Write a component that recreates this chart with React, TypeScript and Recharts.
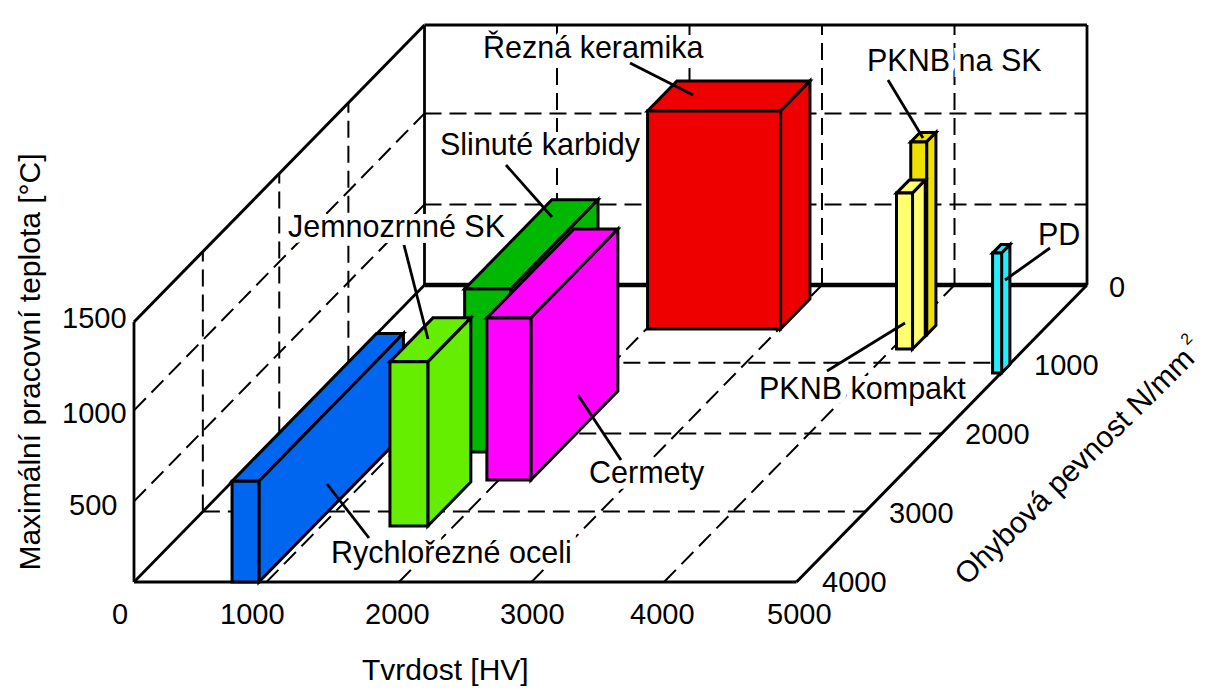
import React from "react";
import { Scatter, ScatterChart, XAxis, YAxis } from "recharts";

const WIDTH = 1212;
const HEIGHT = 692;

// axes
const hardnessTicks = [0, 1000, 2000, 3000, 4000, 5000];
const strengthTicks = [0, 1000, 2000, 3000, 4000];
const temperatureTicks = [0, 500, 1000, 1500];

// materials, all in axis units
const materials = ["Řezná keramika", "Slinuté karbidy", "Cermety", "Rychlořezné oceli", "Jemnozrnné SK", "PKNB na SK", "PKNB kompakt", "PD"];
const hardnessFrom = [2008, 1536, 1910, 740, 1518, 4038, 4035, 4937];
const hardnessTo = [3012, 1884, 2242, 943, 1804, 4158, 4156, 5005];
const strengthFront = [565, 2237, 2595, 4000, 3204, 641, 823, 1144];
const strengthBack = [179, 1000, 1399, 2010, 2621, 519, 656, 1024];
const temperatureTop = [1262, 953, 947, 611, 959, 1121, 914, 716];

const materialColors = ["#ee0000", "#00b800", "#ff00ff", "#0066f0", "#66ee00", "#eee000", "#ffff70", "#22eeff"];

// the axis steps are not quite even in the drawing
const depthAtTick = [1, 0.738, 0.5, 0.237, 0];
const heightAtTick = [0, 0.31, 0.66, 1];

const interp = (v: number, stops: number[], out: number[]) => {
  for (let i = 1; i < stops.length; i++) {
    if (v <= stops[i]) {
      const t = (v - stops[i - 1]) / (stops[i] - stops[i - 1]);
      return out[i - 1] + t * (out[i] - out[i - 1]);
    }
  }
  return out[out.length - 1];
};

// oblique projection of (hardness, strength, temperature) onto the flat chart
const project = (h: number, s: number, t: number) => {
  const d = interp(s, strengthTicks, depthAtTick);
  const z = interp(t, temperatureTicks, heightAtTick);
  return { x: 134 + h * 0.1325 + d * 290.5, y: 582 - d * 297 - z * 260 };
};

const FONT = "'Liberation Sans', Arial, sans-serif";
const TICK_SIZE = 29;
const TITLE_SIZE = 30;
const CALLOUT_SIZE = 30.5;
const DASH = "17 8";

const faceLine = (fill: string, width: number) => (props: any) => {
  const d = props.points.map((p: any, i: number) => `${i ? "L" : "M"}${p.x},${p.y}`).join(" ") + " Z";
  return <path d={d} fill={fill} stroke="#000" strokeWidth={width} strokeLinejoin="miter" />;
};

const noDot = () => null;

const Edge = (key: string, points: { x: number; y: number }[], width = 2.8, dash?: string) => (
  <Scatter
    key={key}
    data={points}
    shape={noDot}
    isAnimationActive={false}
    line={{ stroke: "#000", strokeWidth: width, strokeDasharray: dash }}
  />
);

const textShape = (size: number) => (p: any) => (
  <text x={p.cx} y={p.cy} fontFamily={FONT} fontSize={size} fill="#000">
    {p.payload.label}
  </text>
);

// white outline of the callouts: it cuts the grid lines but stays behind the bars
const haloShape = (size: number) => (p: any) => (
  <text x={p.cx} y={p.cy} fontFamily={FONT} fontSize={size} fill="#fff" stroke="#fff" strokeWidth={12}>
    {p.payload.label}
  </text>
);

// tick texts: left edge and baseline on the chart
const hardnessLabels = [
  { label: "0", x: 112, y: 624 },
  { label: "1000", x: 220, y: 624 },
  { label: "2000", x: 365, y: 624 },
  { label: "3000", x: 500, y: 624 },
  { label: "4000", x: 630, y: 624 },
  { label: "5000", x: 767, y: 624 },
];
const temperatureLabels = [
  { label: "500", x: 69, y: 515 },
  { label: "1000", x: 62, y: 423 },
  { label: "1500", x: 62, y: 328 },
];
const strengthLabels = [
  { label: "0", x: 1109, y: 297 },
  { label: "1000", x: 1034, y: 375 },
  { label: "2000", x: 965, y: 444 },
  { label: "3000", x: 889, y: 523 },
  { label: "4000", x: 822, y: 592 },
];

// callouts, same order as materials
const calloutLabels = [
  { label: materials[0], x: 483, y: 58 },
  { label: materials[1], x: 440, y: 155 },
  { label: materials[2], x: 589, y: 483 },
  { label: materials[3], x: 331, y: 563 },
  { label: materials[4], x: 288, y: 237 },
  { label: materials[5], x: 867, y: 71 },
  { label: materials[6], x: 759, y: 399 },
  { label: materials[7], x: 1038, y: 245 },
];
const leaders = [
  [{ x: 630, y: 63 }, { x: 693, y: 95 }],
  [{ x: 506, y: 165 }, { x: 552, y: 217 }],
  [{ x: 578, y: 395 }, { x: 621, y: 460 }],
  [{ x: 327, y: 484 }, { x: 369, y: 538 }],
  [{ x: 404, y: 245 }, { x: 428, y: 339 }],
  [{ x: 888, y: 80 }, { x: 923, y: 138 }],
  [{ x: 827, y: 371 }, { x: 905, y: 323 }],
  [{ x: 1050, y: 248 }, { x: 1005, y: 280 }],
];

const axisTitle = [{ label: "Tvrdost [HV]", x: 362, y: 680 }];

const RotatedTitle = (angle: number, anchor: { x: number; y: number }, children: React.ReactNode) => (
  <Scatter
    data={[anchor]}
    isAnimationActive={false}
    shape={(p: any) => (
      <text
        x={p.cx}
        y={p.cy}
        textAnchor="middle"
        fontFamily={FONT}
        fontSize={TITLE_SIZE}
        fill="#000"
        transform={`rotate(${angle} ${p.cx} ${p.cy})`}
      >
        {children}
      </text>
    )}
  />
);

const gridLines = () => {
  const out: React.ReactNode[] = [];
  temperatureTicks.slice(1, 3).forEach((t) => {
    out.push(Edge(`lw${t}`, [project(0, 4000, t), project(0, 0, t)], 2, DASH));
    out.push(Edge(`bw${t}`, [project(0, 0, t), project(5000, 0, t)], 2, DASH));
  });
  strengthTicks.slice(1, 4).forEach((s) => {
    out.push(Edge(`lv${s}`, [project(0, s, 0), project(0, s, 1500)], 2, DASH));
    out.push(Edge(`fl${s}`, [project(0, s, 0), project(5000, s, 0)], 2, DASH));
  });
  hardnessTicks.slice(1, 5).forEach((h) => {
    out.push(Edge(`bv${h}`, [project(h, 0, 0), project(h, 0, 1500)], 2, DASH));
    out.push(Edge(`fh${h}`, [project(h, 4000, 0), project(h, 0, 0)], 2, DASH));
  });
  return out;
};

const frameLines = () => [
  Edge("top", [project(0, 0, 1500), project(5000, 0, 1500)]),
  Edge("backRight", [project(5000, 0, 0), project(5000, 0, 1500)]),
  Edge("leftFront", [project(0, 4000, 0), project(0, 4000, 1500)]),
  Edge("leftTop", [project(0, 4000, 1500), project(0, 0, 1500)], 3),
  Edge("leftFloor", [project(0, 4000, 0), project(0, 0, 0)]),
  Edge("rightFloor", [project(5000, 4000, 0), project(5000, 0, 0)], 3),
  Edge("front", [project(0, 4000, 0), project(5000, 4000, 0)], 3),
  Edge("back", [project(0, 0, 0), project(5000, 0, 0)], 4.5),
];

const boxFaces = (i: number) => {
  const [h0, h1, sf, sb, top] = [hardnessFrom[i], hardnessTo[i], strengthFront[i], strengthBack[i], temperatureTop[i]];
  const fill = materialColors[i];
  const faces = {
    top: [project(h0, sf, top), project(h1, sf, top), project(h1, sb, top), project(h0, sb, top)],
    side: [project(h1, sf, 0), project(h1, sb, 0), project(h1, sb, top), project(h1, sf, top)],
    front: [project(h0, sf, 0), project(h1, sf, 0), project(h1, sf, top), project(h0, sf, top)],
  };
  return Object.entries(faces).map(([name, pts]) => (
    <Scatter
      key={`${i}-${name}`}
      data={pts}
      shape={noDot}
      isAnimationActive={false}
      line={faceLine(fill, 3)}
    />
  ));
};

export default function App() {
  return (
    <div style={{ position: "absolute", left: 0, top: 0, width: WIDTH, height: HEIGHT, background: "#fff" }}>
      <ScatterChart width={WIDTH} height={HEIGHT} margin={{ top: 0, right: 0, bottom: 0, left: 0 }}>
        <XAxis type="number" dataKey="x" domain={[0, WIDTH]} hide />
        <YAxis type="number" dataKey="y" domain={[0, HEIGHT]} reversed hide />
        {gridLines()}
        {Edge("backLeft", [project(0, 0, 0), project(0, 0, 1500)])}
        <Scatter data={calloutLabels} shape={haloShape(CALLOUT_SIZE)} isAnimationActive={false} />
        {frameLines()}
        {materials.map((_, i) => boxFaces(i))}
        <Scatter data={calloutLabels} shape={textShape(CALLOUT_SIZE)} isAnimationActive={false} />
        {leaders.map((pts, i) => Edge(`leader${i}`, pts, 2.8))}
        <Scatter data={hardnessLabels} shape={textShape(TICK_SIZE)} isAnimationActive={false} />
        <Scatter data={temperatureLabels} shape={textShape(TICK_SIZE)} isAnimationActive={false} />
        <Scatter data={strengthLabels} shape={textShape(TICK_SIZE)} isAnimationActive={false} />
        <Scatter data={axisTitle} shape={textShape(TITLE_SIZE)} isAnimationActive={false} />
        {RotatedTitle(-90, { x: 40, y: 362 }, "Maximální pracovní teplota [°C]")}
        {RotatedTitle(-44.6, { x: 1086, y: 469 }, (
          <>
            Ohybová pevnost N/mm
            <tspan fontSize={16} dx={4} dy={-17}>2</tspan>
          </>
        ))}
      </ScatterChart>
    </div>
  );
}
